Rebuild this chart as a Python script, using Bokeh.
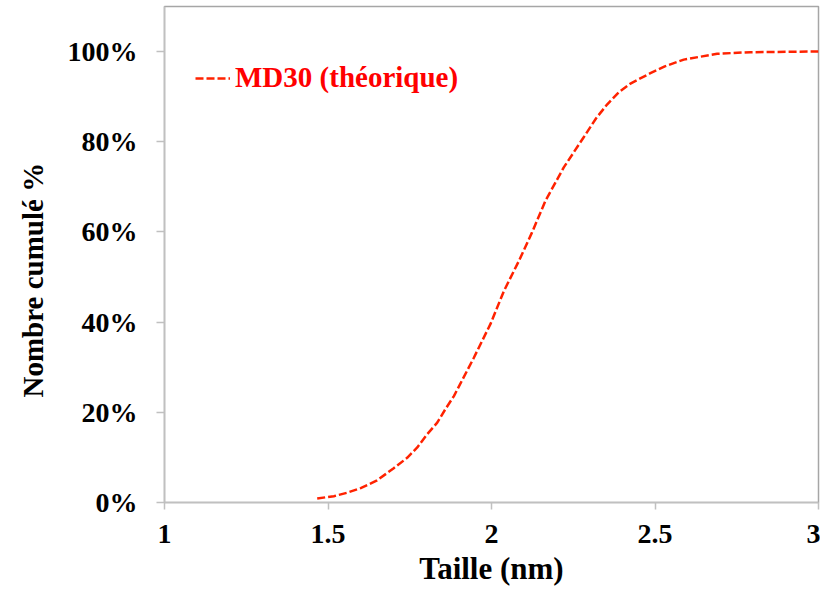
from bokeh.plotting import figure
from bokeh.models import FixedTicker, NumeralTickFormatter, Legend, LegendItem, Title
from bokeh.embed import file_html
from bokeh.resources import INLINE

# Data
taille_nm = [1.467, 1.518, 1.56, 1.600, 1.650, 1.701, 1.742, 1.773, 1.803, 1.834,
             1.859, 1.885, 1.946, 1.997, 2.038, 2.084, 2.124, 2.165, 2.221, 2.282,
             2.32, 2.354, 2.39, 2.425, 2.486, 2.53, 2.588, 2.690, 2.792, 2.914, 3.0]
cumul_pct = [0.9, 1.4, 2.2, 3.2, 4.9, 7.6, 9.9, 12.2, 15.1, 17.7,
             20.7, 23.6, 32.1, 39.6, 46.9, 53.6, 59.9, 66.9, 74.3, 81.0,
             85.2, 88.3, 91.0, 92.9, 95.2, 96.7, 98.2, 99.5, 99.85, 99.95, 100.0]
cumul = [v / 100 for v in cumul_pct]

x_ticks = [1, 1.5, 2, 2.5, 3]
x_tick_labels = ["1", "1.5", "2", "2.5", "3"]
y_ticks = [0, 0.2, 0.4, 0.6, 0.8, 1.0]
series_name = "MD30 (théorique)"
x_title = "Taille (nm)"
y_title = "Nombre cumulé %"

FONT = "Liberation Serif"

p = figure(width=820, height=590, x_range=(1, 3), y_range=(0, 1.0998),
           output_backend="svg", toolbar_location=None,
           min_border_left=164, min_border_right=2, min_border_top=6, min_border_bottom=88)

r = p.line(taille_nm, cumul, line_color="#ff2200", line_width=2.5, line_dash="8 3")

p.xgrid.visible = False
p.ygrid.visible = False
p.outline_line_color = "#a6a6a6"
p.outline_line_width = 1.5

for ax in (p.xaxis[0], p.yaxis[0]):
    ax.axis_line_color = "#c0c0c0"
    ax.axis_line_width = 1.5
    ax.major_tick_line_color = "#c0c0c0"
    ax.major_tick_line_width = 1.5
    ax.major_tick_in = 0
    ax.minor_tick_line_color = None
    ax.major_label_text_font = FONT
    ax.major_label_text_font_style = "bold"
    ax.major_label_text_font_size = "28px"
    ax.major_label_text_color = "black"

p.xaxis[0].ticker = FixedTicker(ticks=x_ticks)
p.xaxis[0].major_label_overrides = {t: l for t, l in zip(x_ticks, x_tick_labels)}
p.xaxis[0].major_tick_out = 7
p.xaxis[0].major_label_standoff = 15
p.xaxis[0].axis_label = x_title
p.xaxis[0].axis_label_text_font = FONT
p.xaxis[0].axis_label_text_font_style = "bold"
p.xaxis[0].axis_label_text_font_size = "31px"
p.xaxis[0].axis_label_text_color = "black"
p.xaxis[0].axis_label_standoff = 5

p.yaxis[0].ticker = FixedTicker(ticks=y_ticks)
p.yaxis[0].formatter = NumeralTickFormatter(format="0%")
p.yaxis[0].major_tick_out = 8
p.yaxis[0].major_label_standoff = 19

ytitle = Title(text=y_title, align="left", offset=105, vertical_align="top", standoff=28,
               text_font=FONT, text_font_style="bold", text_font_size="29px",
               text_color="black")
p.add_layout(ytitle, "left")

legend = Legend(items=[LegendItem(label=series_name, renderers=[r])],
                location=(31, 408), padding=0, margin=0, spacing=0,
                glyph_width=35, glyph_height=20, label_standoff=5,
                border_line_color=None, background_fill_alpha=0,
                label_text_font=FONT, label_text_font_style="bold",
                label_text_font_size="29px", label_text_color="#ff0000")
p.add_layout(legend)

open("out.html", "w").write(file_html(p, INLINE))
